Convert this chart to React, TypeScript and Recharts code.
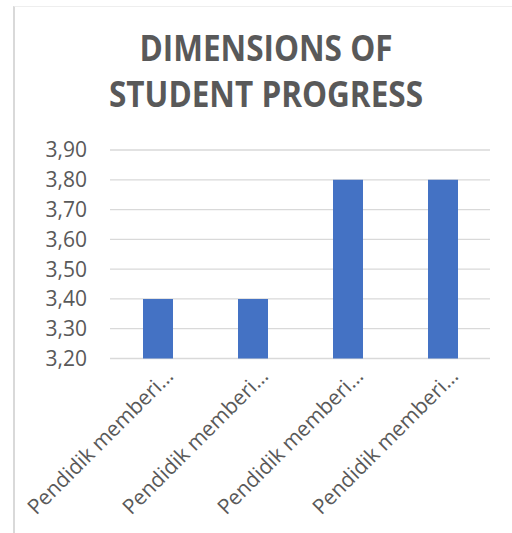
import React from 'react'
import { Bar, BarChart, CartesianGrid, XAxis, YAxis } from 'recharts'

const categories = ['Pendidik memberi…', 'Pendidik memberi…', 'Pendidik memberi…', 'Pendidik memberi…']
const scores = [3.4, 3.4, 3.8, 3.8]
const yTicks = [3.2, 3.3, 3.4, 3.5, 3.6, 3.7, 3.8, 3.9]
const titleLines = ['DIMENSIONS OF', 'STUDENT PROGRESS']

const data = categories.map((name, i) => ({ name, score: scores[i] }))

const FONT = '"Open Sans", sans-serif'
const GREY = '#595959'

const fmt = (v: number) => v.toFixed(2).replace('.', ',')

function SlantTick(props: any) {
  const { x, y, payload } = props
  return (
    <g transform={`translate(${x + 17},${y + 19})`}>
      <text
        transform="rotate(-45)"
        textAnchor="end"
        fill={GREY}
        fontSize={21}
        fontFamily={FONT}
      >
        {payload.value}
      </text>
    </g>
  )
}

function App() {
  return (
    <div
      style={{
        position: 'absolute',
        left: 0,
        top: 0,
        width: 512,
        height: 533,
        background: '#fff',
        overflow: 'hidden',
      }}
    >
      <div
        style={{
          position: 'absolute',
          left: 13,
          top: 6,
          width: 499,
          height: 527,
          borderLeft: '2px solid #d9d9d9',
          borderTop: '1px solid #eeeeee',
        }}
      />
      {titleLines.map((line, i) => (
        <div
          key={i}
          style={{
            position: 'absolute',
            left: 0,
            width: 532,
            top: 26 + i * 46,
            textAlign: 'center',
            fontFamily: FONT,
            fontWeight: 700,
            fontSize: 35,
            lineHeight: '44px',
            color: GREY,
            whiteSpace: 'nowrap',
            transform: 'scaleX(0.9)',
            transformOrigin: '266px 0',
          }}
        >
          {line}
        </div>
      ))}
      <BarChart
        width={512}
        height={533}
        data={data}
        margin={{ top: 150, right: 22, bottom: 74.5, left: 0 }}
        barSize={30}
        style={{ position: 'absolute', left: 0, top: 0 }}
      >
        <CartesianGrid vertical={false} stroke="#d9d9d9" strokeWidth={1.3} />
        <XAxis
          dataKey="name"
          height={100}
          interval={0}
          axisLine={false}
          tickLine={false}
          tickSize={0}
          tickMargin={0}
          tick={<SlantTick />}
        />
        <YAxis
          width={110}
          domain={[3.2, 3.9]}
          ticks={yTicks}
          interval={0}
          axisLine={false}
          tickLine={false}
          tickSize={0}
          tickMargin={23}
          tickFormatter={fmt}
          tick={{ fill: GREY, fontSize: 21, fontFamily: FONT }}
        />
        <Bar dataKey="score" fill="#4472c4" isAnimationActive={false} />
      </BarChart>
    </div>
  )
}

export default App
